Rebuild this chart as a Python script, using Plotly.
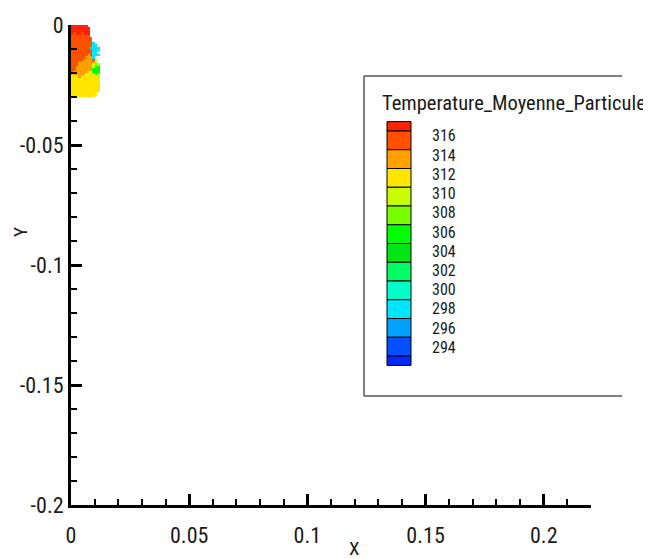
import plotly.graph_objects as go

# ---------------- data ----------------
X_TICKS = [0, 0.05, 0.1, 0.15, 0.2]
X_TICK_LABELS = ["0", "0.05", "0.1", "0.15", "0.2"]
Y_TICKS = [0, -0.05, -0.1, -0.15, -0.2]
Y_TICK_LABELS = ["0", "-0.05", "-0.1", "-0.15", "-0.2"]

LEGEND_TITLE = "Temperature_Moyenne_Particule"
LEVEL_LABELS = [316, 314, 312, 310, 308, 306, 304, 302, 300, 298, 296, 294]

# contour bands, hottest first: lower bound and colour
BAND_LOW = [316, 314, 312, 310, 308, 306, 304, 302, 300, 298, 296, 294, 292, 290]
BAND_COLORS = ["#ff2200", "#ff5000", "#ffa000", "#ffe600", "#c8ff00", "#78ff00",
               "#00ff00", "#00e614", "#00ff64", "#00ffc8", "#00e6ff", "#00a0ff",
               "#0050ff", "#0028ff"]

# particle cloud, 1 mm cells (x from 0, y from 0 downward)
CELL = 0.001
CODE_TEMP = {"R": 317, "r": 315, "o": 313, "y": 311, "l": 309, "g": 307,
             "G": 305, "a": 299, "c": 297}
CLOUD_ROWS = [
    "RRRRRRR......",
    "RRRRRRRR.....",
    "RRRRRRRR.....",
    "RrRRrRRR.....",
    "rrrrrrrr.....",
    "rrrrrrrrr....",
    "rrrrrrrrr....",
    "rrrrrrrrrc...",
    "rrrrrrrrrcc..",
    "rrrrrrrrcccc.",
    "rrrrrrrrrcca.",
    "rrrrrrrrrcc..",
    "rrrrrrrorcca.",
    "rrrrrroooc...",
    "rrrrroooorl..",
    "rrroooooool..",
    "rrroooooolgl.",
    "rrooooooolGG.",
    "rroooooooGGG.",
    "rooooooyyGGG.",
    "ooooooyyyyGl.",
    "yyyoyyyyyyyl.",
    "yyyyyyyyyyyy.",
    "yyyyyyyyyyyy.",
    "yyyyyyyyyyyy.",
    "yyyyyyyyyyyy.",
    "yyyyyyyyyyyy.",
    "yyyyyyyyyyyy.",
    "yyyyyyyyyyy..",
    "yyyyyyyyyy...",
]

# ---------------- figure ----------------
FONT = "Roboto Condensed, DejaVu Sans Condensed, sans-serif"
W, H = 651, 559
OFF = 8  # page body margin
ML, MT = 71 - OFF, 25 - OFF
PW, PH = 520, 480
MR, MB = W - ML - PW, H - MT - PH


def px(x):
    return (x - OFF - ML) / PW


def py(y):
    return (MT + PH - (y - OFF)) / PH


ncols = len(CLOUD_ROWS[0])
xs = [CELL * (i + 0.5) for i in range(ncols)]
ys = [-CELL * (j + 0.5) for j in range(len(CLOUD_ROWS))]
zs = [[CODE_TEMP.get(ch) for ch in row] for row in CLOUD_ROWS]

zmin, zmax = min(BAND_LOW), max(BAND_LOW) + 2
cscale = []
for lo, col in sorted(zip(BAND_LOW, BAND_COLORS)):
    a = (lo - zmin) / (zmax - zmin)
    b = (lo + 2 - zmin) / (zmax - zmin)
    cscale += [[a, col], [b, col]]

fig = go.Figure()
fig.add_trace(go.Heatmap(x=xs, y=ys, z=zs, zmin=zmin, zmax=zmax,
                         colorscale=cscale, showscale=False, hoverinfo="skip"))

axis_common = dict(showline=True, linewidth=3, linecolor="black", mirror=False,
                   ticks="inside", ticklen=11, tickwidth=2.5, tickcolor="black",
                   showgrid=False, zeroline=False, automargin=False,
                   tickfont=dict(family=FONT, size=22, color="#1a1a1a"),
                   minor=dict(ticks="inside", ticklen=6, tickwidth=1.5,
                              tickcolor="black", dtick=0.01, tick0=0, showgrid=False))
fig.update_xaxes(range=[0, 0.22], tickvals=X_TICKS, ticktext=X_TICK_LABELS,
                 ticklabelstandoff=9, **axis_common)
fig.update_yaxes(range=[-0.2, 0], tickvals=Y_TICKS, ticktext=Y_TICK_LABELS,
                 ticklabelstandoff=0, **axis_common)

shapes = []
anns = []

# legend frame (open on the right, as in the reference)
bx0, bx1, by0, by1 = 364, 622, 76, 396
for (x0, y0, x1, y1) in [(bx0, by0, bx1, by0), (bx0, by0, bx0, by1), (bx0, by1, bx1, by1)]:
    shapes.append(dict(type="line", xref="paper", yref="paper",
                       x0=px(x0), y0=py(y0), x1=px(x1), y1=py(y1),
                       line=dict(color="#555555", width=1.5)))

# legend bands
step_px = 18.75
y316 = 131
tmax_leg, tmin_leg = 317, 291


def legy(t):
    return y316 + (316 - t) / 2 * step_px


sx0, sx1 = 387, 411
for lo, col in zip(BAND_LOW, BAND_COLORS):
    hi = min(lo + 2, tmax_leg)
    lo2 = max(lo, tmin_leg)
    shapes.append(dict(type="rect", xref="paper", yref="paper",
                       x0=px(sx0), x1=px(sx1), y0=py(legy(lo2)), y1=py(legy(hi)),
                       fillcolor=col, line=dict(color="black", width=1)))

for i, lab in enumerate(LEVEL_LABELS):
    yy = 136 + i * 19.2
    anns.append(dict(xref="paper", yref="paper", x=px(430), y=py(yy),
                     xanchor="left", yanchor="middle", showarrow=False,
                     text=str(lab), font=dict(family=FONT, size=16, color="#1a1a1a")))

anns.append(dict(xref="paper", yref="paper", x=px(380), y=py(103),
                 xanchor="left", yanchor="middle", showarrow=False,
                 text=LEGEND_TITLE, font=dict(family=FONT, size=20.5, color="#1a1a1a")))

anns.append(dict(xref="paper", yref="paper", x=px(354), y=py(548),
                 xanchor="center", yanchor="middle", showarrow=False,
                 text="X", font=dict(family=FONT, size=19, color="#1a1a1a")))
anns.append(dict(xref="paper", yref="paper", x=px(20), y=py(232),
                 xanchor="center", yanchor="middle", showarrow=False, textangle=-90,
                 text="Y", font=dict(family=FONT, size=19, color="#1a1a1a")))

fig.update_layout(width=W, height=H, margin=dict(l=ML, r=MR, t=MT, b=MB),
                  paper_bgcolor="white", plot_bgcolor="white",
                  shapes=shapes, annotations=anns, showlegend=False)

fig.write_html("out.html")
